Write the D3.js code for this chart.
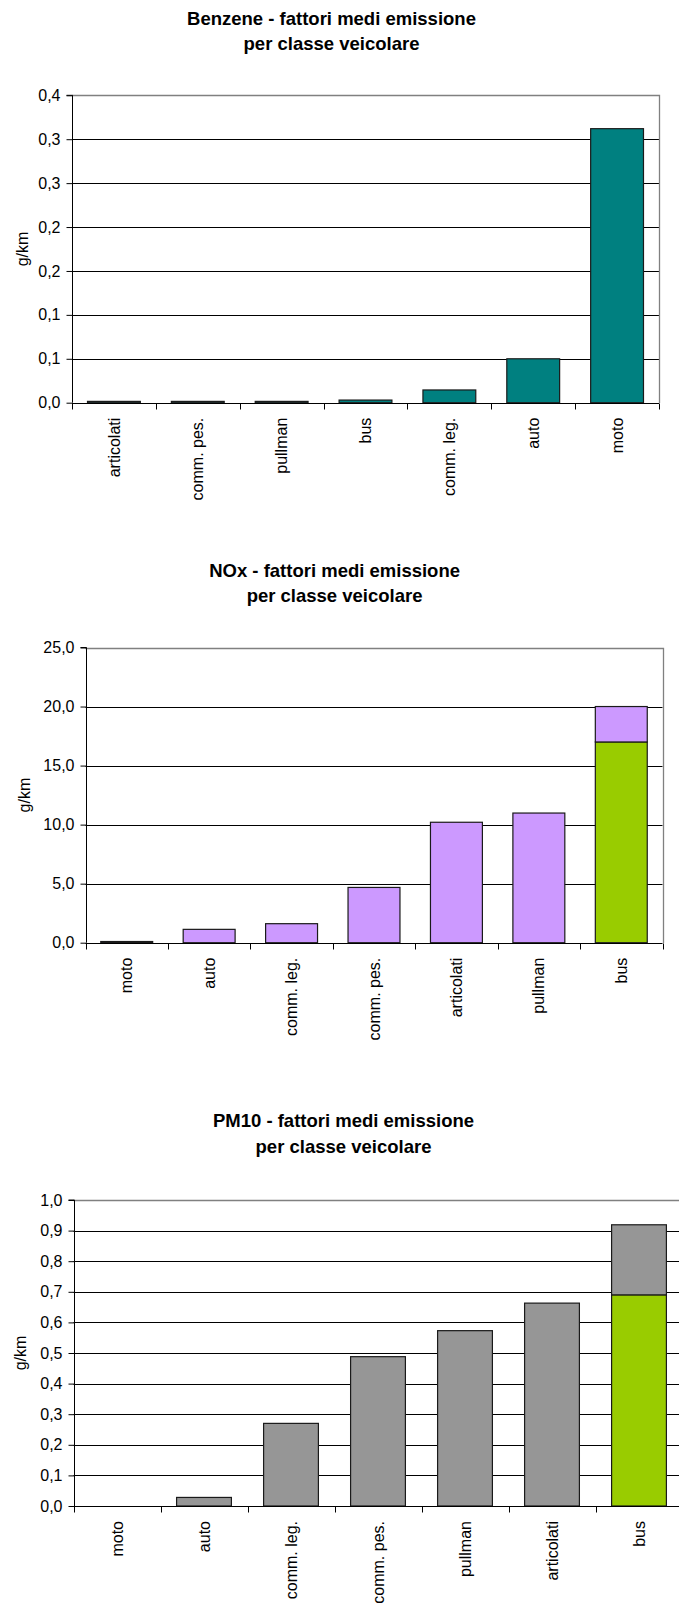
<!DOCTYPE html>
<html>
<head>
<meta charset="utf-8">
<script src="https://cdn.jsdelivr.net/npm/d3@7"></script>
<style>
  html, body { margin: 0; padding: 0; background: #fff; }
  svg { display: block; }
  text { font-family: "Liberation Sans", Arial, sans-serif; fill: #000; }
</style>
</head>
<body>
<script>
// ---- Benzene ----
const benzeneCategories = ["articolati", "comm. pes.", "pullman", "bus", "comm. leg.", "auto", "moto"];
const benzeneValues = [0.0015, 0.0015, 0.0015, 0.003, 0.0145, 0.05, 0.312];
const benzeneTicks = [0, 0.05, 0.1, 0.15, 0.2, 0.25, 0.3, 0.35];
const benzeneTickLabels = ["0,0", "0,1", "0,1", "0,2", "0,2", "0,3", "0,3", "0,4"];

// ---- NOx ----
const noxCategories = ["moto", "auto", "comm. leg.", "comm. pes.", "articolati", "pullman", "bus"];
const noxGreen = [0, 0, 0, 0, 0, 0, 17.0];
const noxPurple = [0.1, 1.13, 1.61, 4.68, 10.2, 10.98, 3.0];
const noxTicks = [0, 5, 10, 15, 20, 25];
const noxTickLabels = ["0,0", "5,0", "10,0", "15,0", "20,0", "25,0"];

// ---- PM10 ----
const pmCategories = ["moto", "auto", "comm. leg.", "comm. pes.", "pullman", "articolati", "bus"];
const pmGreen = [0, 0, 0, 0, 0, 0, 0.69];
const pmGray = [0, 0.028, 0.27, 0.488, 0.573, 0.663, 0.229];
const pmTicks = [0, 0.1, 0.2, 0.3, 0.4, 0.5, 0.6, 0.7, 0.8, 0.9, 1.0];
const pmTickLabels = ["0,0", "0,1", "0,2", "0,3", "0,4", "0,5", "0,6", "0,7", "0,8", "0,9", "1,0"];

const yUnit = "g/km";
const subtitle = "per classe veicolare";

const svg = d3.select("body").append("svg")
  .attr("width", 679)
  .attr("height", 1611);

function drawChart(cfg) {
  const g = svg.append("g");
  const x = d3.scaleBand()
    .domain(cfg.categories)
    .range([cfg.left, cfg.right])
    .paddingInner(0.37)
    .paddingOuter(0.185);
  const y = d3.scaleLinear()
    .domain([0, cfg.max])
    .range([cfg.bottom, cfg.top]);

  // title
  const title = g.append("text")
    .attr("text-anchor", "middle")
    .style("font-weight", "bold")
    .style("font-size", "18.5px");
  title.append("tspan").attr("x", cfg.titleX).attr("y", cfg.titleY[0]).text(cfg.title);
  title.append("tspan").attr("x", cfg.titleX).attr("y", cfg.titleY[1]).text(subtitle);

  // horizontal gridlines
  g.append("g").selectAll("line")
    .data(cfg.ticks.filter(t => t > 0 && t < cfg.max))
    .join("line")
    .attr("x1", cfg.left).attr("x2", cfg.right)
    .attr("y1", d => Math.round(y(d)) + 0.5).attr("y2", d => Math.round(y(d)) + 0.5)
    .attr("stroke", "#000")
    .attr("stroke-width", 1);

  // plot-area border (top and right)
  const yTop = Math.round(y(cfg.max)) + 0.5;
  g.append("path")
    .attr("d", `M${cfg.left},${yTop}H${Math.round(cfg.right) + 0.5}V${Math.round(cfg.bottom)}`)
    .attr("fill", "none")
    .attr("stroke", "#808080")
    .attr("stroke-width", 1.3);

  // bars (stacked series, bottom first)
  const rows = cfg.categories.map((c, i) => {
    const r = { cat: c };
    cfg.series.forEach(s => { r[s.key] = s.values[i]; });
    return r;
  });
  const stacked = d3.stack().keys(cfg.series.map(s => s.key))(rows);
  stacked.forEach((layer, li) => {
    g.append("g").selectAll("rect")
      .data(layer.filter(d => d[1] - d[0] > 0))
      .join("rect")
      .attr("x", d => x(d.data.cat))
      .attr("width", x.bandwidth())
      .attr("y", d => y(d[1]))
      .attr("height", d => y(d[0]) - y(d[1]))
      .attr("fill", cfg.series[li].color)
      .attr("stroke", "#1a1a1a")
      .attr("stroke-width", 1.2);
  });

  // y axis
  const yAxis = d3.axisLeft(y)
    .tickValues(cfg.ticks)
    .tickFormat((d, i) => cfg.tickLabels[i])
    .tickSize(6)
    .tickPadding(6);
  const ya = g.append("g")
    .attr("transform", `translate(${Math.round(cfg.left) + 0.5},0)`)
    .call(yAxis);
  ya.select(".domain").attr("stroke", "#000").attr("d", `M-6,${y(cfg.max)}H0V${cfg.bottom}`);
  ya.selectAll(".tick line").attr("stroke", "#000");
  ya.selectAll(".tick text")
    .style("font-size", "16px")
    .style("font-family", "'Liberation Sans', Arial, sans-serif")
    .attr("fill", "#000");

  // x axis line with tick marks on category boundaries
  const step = x.step();
  const bounds = d3.range(cfg.categories.length + 1).map(i => cfg.left + i * step);
  const yb = Math.round(cfg.bottom) + 0.5;
  g.append("line")
    .attr("x1", cfg.left).attr("x2", cfg.right)
    .attr("y1", yb).attr("y2", yb)
    .attr("stroke", "#000");
  g.append("g").selectAll("line")
    .data(bounds)
    .join("line")
    .attr("x1", d => Math.round(d) + 0.5).attr("x2", d => Math.round(d) + 0.5)
    .attr("y1", yb).attr("y2", yb + 6)
    .attr("stroke", "#000");

  // category labels, rotated
  g.append("g").selectAll("text")
    .data(cfg.categories)
    .join("text")
    .attr("transform", d => `translate(${x(d) + x.bandwidth() / 2},${cfg.bottom + 15}) rotate(-90)`)
    .attr("text-anchor", "end")
    .attr("dy", "0.35em")
    .style("font-size", "16px")
    .text(d => d);

  // unit label
  g.append("text")
    .attr("transform", `translate(${cfg.unitX},${(cfg.top + cfg.bottom) / 2}) rotate(-90)`)
    .attr("text-anchor", "middle")
    .attr("dy", "0.3em")
    .style("font-size", "16px")
    .text(yUnit);
}

drawChart({
  title: "Benzene - fattori medi emissione",
  titleX: 331.5, titleY: [25, 50],
  categories: benzeneCategories,
  series: [{ key: "benzene", values: benzeneValues, color: "#008080" }],
  ticks: benzeneTicks, tickLabels: benzeneTickLabels, max: 0.35,
  left: 72, right: 659, top: 95.3, bottom: 402.7, unitX: 23
});

drawChart({
  title: "NOx - fattori medi emissione",
  titleX: 334.6, titleY: [576.5, 601.5],
  categories: noxCategories,
  series: [
    { key: "green", values: noxGreen, color: "#99CC00" },
    { key: "purple", values: noxPurple, color: "#CC99FF" }
  ],
  ticks: noxTicks, tickLabels: noxTickLabels, max: 25,
  left: 85.5, right: 662.5, top: 647.5, bottom: 942.7, unitX: 25
});

drawChart({
  title: "PM10 - fattori medi emissione",
  titleX: 343.5, titleY: [1126.5, 1152.5],
  categories: pmCategories,
  series: [
    { key: "green", values: pmGreen, color: "#99CC00" },
    { key: "gray", values: pmGray, color: "#969696" }
  ],
  ticks: pmTicks, tickLabels: pmTickLabels, max: 1.0,
  left: 73.5, right: 682.5, top: 1200, bottom: 1506, unitX: 21
});
</script>
</body>
</html>
